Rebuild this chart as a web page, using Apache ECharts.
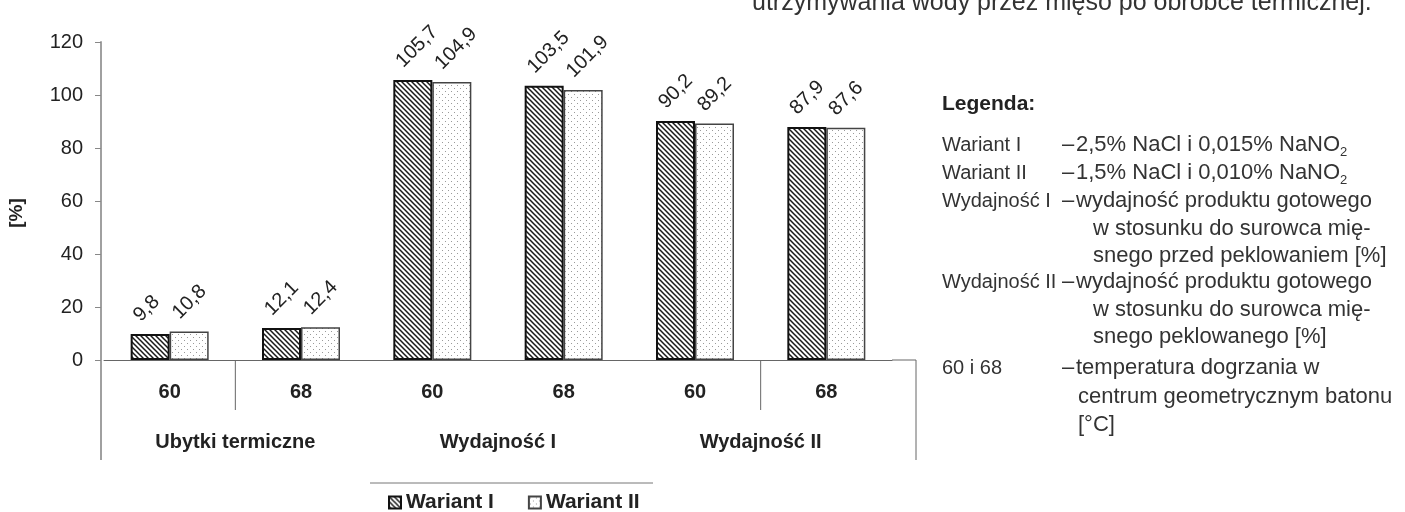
<!DOCTYPE html>
<html><head><meta charset="utf-8">
<style>html,body{margin:0;padding:0;background:#fff}#c{width:1405px;height:512px}</style>
<script src="https://cdn.jsdelivr.net/npm/echarts/dist/echarts.min.js"></script>
</head><body><div id="c"></div>
<script>
// ---- data ----
const categories = ['60', '68', '60', '68', '60', '68'];
const groups = ['Ubytki termiczne', 'Wydajność I', 'Wydajność II'];
const seriesNames = ['Wariant I', 'Wariant II'];
const wariantI = [9.8, 12.1, 105.7, 103.5, 90.2, 87.9];
const wariantII = [10.8, 12.4, 104.9, 101.9, 89.2, 87.6];
const yMin = 0, yMax = 120, yStep = 20;
const yAxisName = '[%]';
const captionText = 'utrzymywania wody przez mięso po obróbce termicznej.';
const legendTitle = 'Legenda:';
const legendTerms = ['Wariant I', 'Wariant II', 'Wydajność I', 'Wydajność II', '60 i 68'];
const legendDescs = [
  ['2,5% NaCl i 0,015% NaNO{sub|2}'],
  ['1,5% NaCl i 0,010% NaNO{sub|2}'],
  ['wydajność produktu gotowego', 'w stosunku do surowca mię-', 'snego przed peklowaniem [%]'],
  ['wydajność produktu gotowego', 'w stosunku do surowca mię-', 'snego peklowanego [%]'],
  ['temperatura dogrzania w', 'centrum geometrycznym batonu', '[°C]']
];

const FONT = '"Liberation Sans", Arial, Helvetica, sans-serif';

function makeHatch() {
  const c = document.createElement('canvas'); c.width = 5; c.height = 5;
  const g = c.getContext('2d');
  g.fillStyle = '#fff'; g.fillRect(0, 0, 5, 5);
  g.strokeStyle = '#1a1a1a'; g.lineWidth = 1.5;
  g.beginPath();
  g.moveTo(-1, -1); g.lineTo(6, 6);
  g.moveTo(-1, 4); g.lineTo(1, 6);
  g.moveTo(4, -1); g.lineTo(6, 1);
  g.stroke();
  return c;
}
function makeDots() {
  const c = document.createElement('canvas'); c.width = 6; c.height = 6;
  const g = c.getContext('2d');
  g.fillStyle = '#fff'; g.fillRect(0, 0, 6, 6);
  g.fillStyle = '#9a9a9a';
  g.fillRect(1, 1, 1, 1); g.fillRect(4, 4, 1, 1);
  return c;
}
const hatch = { image: makeHatch(), repeat: 'repeat' };
const dots = { image: makeDots(), repeat: 'repeat' };

const fmt = p => String(p.value).replace('.', ',');
const labelCfg = {
  show: true, position: 'top', distance: 5, rotate: 45, align: 'left', verticalAlign: 'middle',
  offset: [-2, -17], fontSize: 20, color: '#222', fontFamily: FONT, formatter: fmt
};

const chart = echarts.init(document.getElementById('c'), null, { renderer: 'canvas' });
chart.setOption({
  animation: false,
  textStyle: { fontFamily: FONT },
  grid: { left: 104, right: 513, top: 42, bottom: 152 },
  legend: {
    data: seriesNames, left: 383, top: 487, icon: 'rect', itemWidth: 12, itemHeight: 12, itemGap: 34,
    textStyle: { fontSize: 21, fontWeight: 'bold', color: '#222', fontFamily: FONT }
  },
  xAxis: [
    { type: 'category', data: categories,
      axisLine: { lineStyle: { color: '#666', width: 1 } }, axisTick: { show: false },
      axisLabel: { color: '#222', fontSize: 20, fontWeight: 'bold', margin: 22, fontFamily: FONT } },
    { type: 'category', data: groups, position: 'bottom', offset: 60,
      axisLine: { show: false, onZero: false }, axisTick: { show: false },
      axisLabel: { color: '#222', fontSize: 20, fontWeight: 'bold', margin: 12, fontFamily: FONT } }
  ],
  yAxis: {
    type: 'value', min: yMin, max: yMax, interval: yStep, offset: 3,
    axisLine: { show: true, lineStyle: { color: '#a0a0a0', width: 2 } },
    axisTick: { show: true, length: 6, lineStyle: { color: '#888' } },
    splitLine: { show: false },
    axisLabel: { color: '#222', fontSize: 20, margin: 18, fontFamily: FONT }
  },
  series: [
    { name: seriesNames[0], type: 'bar', data: wariantI, barWidth: 39, barGap: '0%',
      itemStyle: { color: hatch, borderColor: '#111', borderWidth: 2 }, label: labelCfg },
    { name: seriesNames[1], type: 'bar', data: wariantII, barWidth: 39, barGap: '0%',
      itemStyle: { color: dots, borderColor: '#444', borderWidth: 1.5 }, label: labelCfg }
  ]
});

// decorations derived from the axes
const y0 = chart.convertToPixel({ yAxisIndex: 0 }, 0);
const xs = categories.map((_, i) => chart.convertToPixel({ xAxisIndex: 0 }, i));
const band = xs[1] - xs[0];
const gL = xs[0] - band / 2, gR = xs[xs.length - 1] + band / 2;
const axX = gL - 3;
const endX = gR + 24;
const ln = (x1, y1, x2, y2, color, w) => ({ type: 'line', silent: true,
  shape: { x1, y1, x2, y2 }, style: { stroke: color, lineWidth: w || 1 } });

const g = [
  ln(gR, y0, endX, y0, '#666'),
  ln(xs[0] + band / 2, y0, xs[0] + band / 2, y0 + 50, '#666'),
  ln(xs[4] + band / 2, y0, xs[4] + band / 2, y0 + 50, '#666'),
  ln(endX, y0, endX, y0 + 100, '#666'),
  ln(axX, y0, axX, y0 + 100, '#a0a0a0', 2),
  ln(370, 483, 653, 483, '#777'),
  { type: 'text', x: 17, y: 213, rotation: Math.PI / 2,
    style: { text: yAxisName, fontSize: 19, fontWeight: 'bold', fill: '#222', fontFamily: FONT,
      align: 'center', verticalAlign: 'middle' } },
  { type: 'text', x: 752, y: 3,
    style: { text: captionText, fontSize: 25, fill: '#333', fontFamily: FONT, align: 'left', verticalAlign: 'middle' } },
  { type: 'text', x: 942, y: 104,
    style: { text: legendTitle, fontSize: 21, fontWeight: 'bold', fill: '#222', fontFamily: FONT, verticalAlign: 'middle' } }
];
const rowY = [145, 173, 201, 282, 368];
const lineStep = 27.5;
const rich = { sub: { fontSize: 13, lineHeight: 12, verticalAlign: 'bottom', fill: '#333', fontFamily: FONT } };
legendTerms.forEach((t, i) => {
  const y = rowY[i];
  g.push({ type: 'text', x: 942, y, style: { text: t, fontSize: 20, fill: '#333', fontFamily: FONT, verticalAlign: 'middle' } });
  g.push({ type: 'text', x: 1062, y, style: { text: '–', fontSize: 22, fill: '#333', fontFamily: FONT, verticalAlign: 'middle' } });
  legendDescs[i].forEach((d, j) => {
    const x = j === 0 ? 1076 : (i === 4 ? 1078 : 1093);
    g.push({ type: 'text', x, y: y + j * (i === 4 ? 28.5 : lineStep),
      style: { text: d, fontSize: 22, lineHeight: 28, fill: '#333', fontFamily: FONT, verticalAlign: 'middle', rich } });
  });
});
chart.setOption({ graphic: g });
</script></body></html>
